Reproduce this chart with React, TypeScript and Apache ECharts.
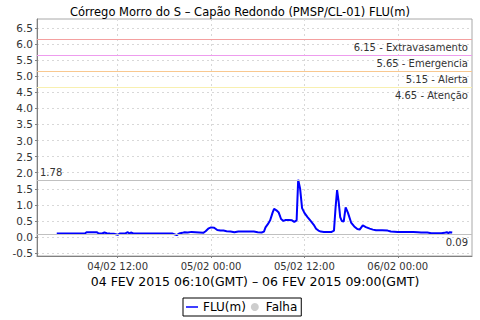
import React, { useEffect, useRef } from "react";
import * as echarts from "echarts";

// hours since 04/02/2015 00:00 (local, GMT-2)
const hours = [
  4.17, 5.0, 6.0, 7.0, 7.8, 8.0, 8.5, 9.0, 9.3, 9.5, 10.0, 10.3, 10.6, 11.0, 11.5, 12.0, 12.3, 13.0, 13.3, 13.5,
  13.7, 14.0, 15.0, 16.0, 17.0, 18.0, 19.0, 19.6, 19.9, 20.3, 20.6, 21.0, 21.5, 22.0, 22.5, 23.0, 23.3, 23.7, 24.0, 24.4,
  24.8, 25.2, 25.6, 26.0, 26.5, 27.0, 27.5, 28.0, 29.0, 29.5, 30.0, 30.5, 30.8, 31.0, 31.3, 31.6, 31.9, 32.1, 32.4, 32.7,
  33.0, 33.3, 33.6, 34.0, 34.4, 34.7, 35.0, 35.2, 35.45, 35.7, 36.0, 36.4, 36.8, 37.2, 37.5, 37.8, 38.1, 38.5, 39.0, 39.5,
  39.8, 40.0, 40.2, 40.4, 40.6, 40.8, 41.05, 41.3, 41.6, 42.0, 42.4, 42.8, 43.1, 43.5, 43.9, 44.4, 44.8, 45.2, 46.0, 46.7,
  47.1, 48.0, 49.0, 50.0, 50.6, 51.0, 51.8, 52.3, 53.0, 53.6, 54.0, 54.3, 54.5, 54.7, 55.0,
];
const levels = [
  0.11, 0.11, 0.11, 0.11, 0.11, 0.15, 0.15, 0.15, 0.15, 0.12, 0.11, 0.14, 0.12, 0.11, 0.1, 0.07, 0.11, 0.11, 0.15, 0.11,
  0.14, 0.11, 0.11, 0.11, 0.11, 0.11, 0.11, 0.06, 0.11, 0.13, 0.15, 0.14, 0.16, 0.15, 0.14, 0.13, 0.18, 0.27, 0.3, 0.29,
  0.22, 0.2, 0.2, 0.18, 0.17, 0.15, 0.17, 0.17, 0.17, 0.17, 0.15, 0.14, 0.17, 0.3, 0.4, 0.52, 0.75, 0.88, 0.83, 0.76,
  0.56, 0.5, 0.53, 0.53, 0.52, 0.47, 0.52, 1.78, 1.5, 0.9, 0.75, 0.62, 0.5, 0.38, 0.26, 0.2, 0.17, 0.16, 0.16, 0.16,
  0.2, 0.9, 1.46, 1.1, 0.62, 0.5, 0.48, 0.92, 0.75, 0.45, 0.33, 0.25, 0.23, 0.36, 0.31, 0.26, 0.23, 0.21, 0.21, 0.2,
  0.17, 0.16, 0.16, 0.16, 0.15, 0.14, 0.14, 0.12, 0.12, 0.12, 0.13, 0.15, 0.12, 0.15, 0.14,
];

const thresholdValues = [6.15, 5.65, 5.15, 4.65];
const thresholdNames = ["Extravasamento", "Emergencia", "Alerta", "Atenção"];
const thresholdColors = ["#f4a0a0", "#ee9cee", "#f8c890", "#f8f0b0"];
const maxValue = 1.78;
const minValue = 0.09;

const yTicks = [-0.5, 0, 0.5, 1, 1.5, 2, 2.5, 3, 3.5, 4, 4.5, 5, 5.5, 6, 6.5];
const xTicks = [12, 24, 36, 48];

const titleText = "Córrego Morro do S – Capão Redondo (PMSP/CL-01) FLU(m)";
const subText = "04 FEV 2015 06:10(GMT) – 06 FEV 2015 09:00(GMT)";

const FONT = "DejaVu Sans";

function fmtHour(h: number) {
  const day = 4 + Math.floor(h / 24);
  const hh = Math.round(h % 24);
  const p = (n: number) => (n < 10 ? "0" + n : "" + n);
  return p(day) + "/02 " + p(hh) + ":00";
}

const lineIcon = "path://M0,0h12v0.001h-12z M0,3.2h12v1.6h-12z M0,7.999h12v0.001h-12z";

export default function App() {
  const ref = useRef<HTMLDivElement>(null);
  useEffect(() => {
    if (!ref.current) return;
    const chart = echarts.init(ref.current, null, { renderer: "svg" });
    const data = hours.map((h, i) => [h, levels[i]]);
    const lbl = { color: "#333", fontSize: 10, fontFamily: FONT };
    const markData: any[] = thresholdValues.map((v, i) => ({
      yAxis: v,
      lineStyle: { color: thresholdColors[i], width: 1, type: "solid" },
      label: {
        ...lbl,
        show: true,
        position: "insideEndBottom",
        formatter: v.toFixed(2) + " - " + thresholdNames[i],
        distance: [4, 3],
      },
    }));
    markData.push({
      yAxis: maxValue,
      lineStyle: { color: "#c0c0c0", width: 1, type: "solid" },
      label: { ...lbl, show: true, position: "insideStartTop", formatter: maxValue.toFixed(2), distance: [3, 2] },
    });
    markData.push({
      yAxis: minValue,
      lineStyle: { color: "#c0c0c0", width: 1, type: "solid" },
      label: { ...lbl, show: true, position: "insideEndBottom", formatter: minValue.toFixed(2), distance: [4, 3] },
    });
    chart.setOption({
      animation: false,
      backgroundColor: "#fff",
      title: [
        {
          text: titleText,
          left: "center",
          top: 1,
          textStyle: { fontSize: 11.5, fontWeight: "normal", color: "#000", fontFamily: FONT },
        },
      ],
      graphic: [
        {
          type: "text",
          x: 255,
          y: 281,
          style: {
            text: subText,
            fontSize: 12.5,
            fontFamily: FONT,
            fill: "#000",
            align: "center",
            verticalAlign: "middle",
          },
        },
      ],
      legend: {
        top: 298,
        left: 183,
        borderColor: "#000",
        borderWidth: 1,
        borderRadius: 0,
        padding: [3, 4, 3, 3],
        itemGap: 5,
        itemWidth: 12,
        itemHeight: 8,
        textStyle: { fontSize: 12, color: "#000", fontFamily: FONT },
        data: [
          { name: "FLU(m)", icon: lineIcon },
          { name: "Falha", icon: "circle" },
        ],
      },
      grid: {
        left: 37,
        right: 8,
        top: 19,
        bottom: 64,
        show: true,
        borderColor: "#a8a8a8",
        borderWidth: 1,
        backgroundColor: "#fff",
      },
      xAxis: {
        type: "value",
        min: 1.63,
        max: 57.54,
        axisLine: { show: true, lineStyle: { color: "#808080" }, onZero: false },
        axisTick: { show: true, length: 2, lineStyle: { color: "#808080" }, customValues: xTicks },
        axisLabel: {
          customValues: xTicks,
          formatter: (v: number) => fmtHour(v),
          fontSize: 10,
          color: "#333",
          fontFamily: FONT,
          margin: 5,
        },
        splitLine: { show: true, lineStyle: { color: "#d8d8d8", type: [2, 3] } },
      },
      yAxis: {
        type: "value",
        min: -0.59,
        max: 6.78,
        axisLine: { show: true, lineStyle: { color: "#808080" }, onZero: false },
        axisTick: { show: true, length: 2, lineStyle: { color: "#808080" }, customValues: yTicks },
        axisLabel: {
          customValues: yTicks,
          formatter: (v: number) => v.toFixed(1),
          fontSize: 10.5,
          color: "#333",
          fontFamily: FONT,
          margin: 4,
        },
        splitLine: { show: true, lineStyle: { color: "#d8d8d8", type: [2, 3] } },
      },
      series: [
        {
          name: "FLU(m)",
          type: "line",
          data,
          symbol: "none",
          lineStyle: { color: "#0000ff", width: 2 },
          itemStyle: { color: "#0000ff" },
          markLine: { silent: true, symbol: "none", data: markData },
          z: 3,
        },
        {
          name: "Falha",
          type: "scatter",
          data: [],
          itemStyle: { color: "#c0c0c0" },
        },
      ],
    });
    return () => chart.dispose();
  }, []);
  return (
    <div
      ref={ref}
      style={{ position: "fixed", left: 0, top: 0, width: 480, height: 320 }}
    />
  );
}
